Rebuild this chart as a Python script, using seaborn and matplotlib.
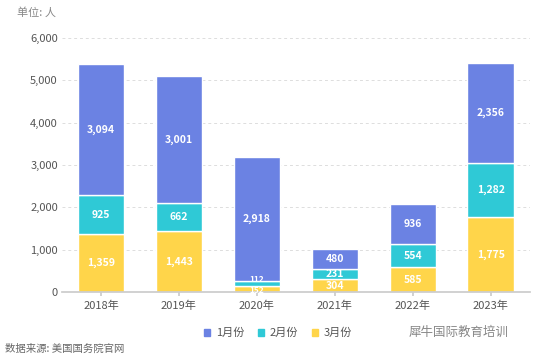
import numpy as np
import pandas as pd
import seaborn as sns
import matplotlib.pyplot as plt
from matplotlib.ticker import FuncFormatter
from matplotlib.patches import Patch

years = ['2018年', '2019年', '2020年', '2021年', '2022年', '2023年']
jan = [3094, 3001, 2918, 480, 936, 2356]
feb = [925, 662, 112, 231, 554, 1282]
mar = [1359, 1443, 152, 304, 585, 1775]

c_jan = '#6b82e3'
c_feb = '#2fc9d6'
c_mar = '#ffd54a'

sns.set_theme(style='white')
plt.rcParams['font.family'] = ['Noto Sans CJK SC', 'DejaVu Sans']

df = pd.DataFrame({'year': years, 'jan': jan, 'feb': feb, 'mar': mar})

fig = plt.figure(figsize=(5.56, 3.59), dpi=100)
ax = fig.add_axes([0.1115, 0.1866, 0.8415, 0.7074])

bottom2 = np.array(mar)
bottom1 = np.array(mar) + np.array(feb)
w = 0.6
sns.barplot(data=df, x='year', y='mar', color=c_mar, width=w, ax=ax, saturation=1)
sns.barplot(data=df, x='year', y='feb', color=c_feb, width=w, ax=ax, saturation=1, bottom=bottom2)
sns.barplot(data=df, x='year', y='jan', color=c_jan, width=w, ax=ax, saturation=1, bottom=bottom1)

for i in range(len(years)):
    for val, base in [(mar[i], 0), (feb[i], bottom2[i]), (jan[i], bottom1[i])]:
        y = base + val / 2
        fs = 7.5
        # tiny 2020 segments: shrink and nudge apart so labels stay readable
        if val < 200:
            fs = 6
            y = y + (90 if base > 0 else -40)
        ax.text(i, y, f'{val:,}', ha='center', va='center',
                color='white', fontsize=fs, fontweight='bold')

ax.set_ylim(0, 6000)
ax.set_yticks(range(0, 6001, 1000))
ax.yaxis.set_major_formatter(FuncFormatter(lambda v, p: f'{int(v):,}'))
ax.set_xlim(-0.5, 5.5)
ax.set_xlabel('')
ax.set_ylabel('')
ax.grid(axis='y', linestyle=(0, (3, 3)), color='#dddddd', linewidth=0.7)
ax.set_axisbelow(True)
for s in ['top', 'right', 'left']:
    ax.spines[s].set_visible(False)
ax.spines['bottom'].set_color('#cccccc')
ax.tick_params(axis='both', labelsize=8, colors='#555555', length=0, pad=3)
ax.tick_params(axis='x', length=3, color='#cccccc', direction='out', bottom=True)

fig.text(0.03, 0.955, '单位: 人', fontsize=8, color='#888888')
fig.text(0.009, 0.02, '数据来源: 美国国务院官网', fontsize=7.5, color='#666666')

handles = [Patch(color=c_jan, label='1月份'), Patch(color=c_feb, label='2月份'),
           Patch(color=c_mar, label='3月份')]
fig.legend(handles=handles, loc='center', bbox_to_anchor=(0.5, 0.072), ncol=3,
           frameon=False, fontsize=8, handlelength=0.6, handleheight=0.6,
           columnspacing=1.2, handletextpad=0.5, labelcolor='#555555')
fig.text(0.735, 0.065, '犀牛国际教育培训', fontsize=9, color='#555555', alpha=0.7)

fig.savefig('out.png', dpi=100)
